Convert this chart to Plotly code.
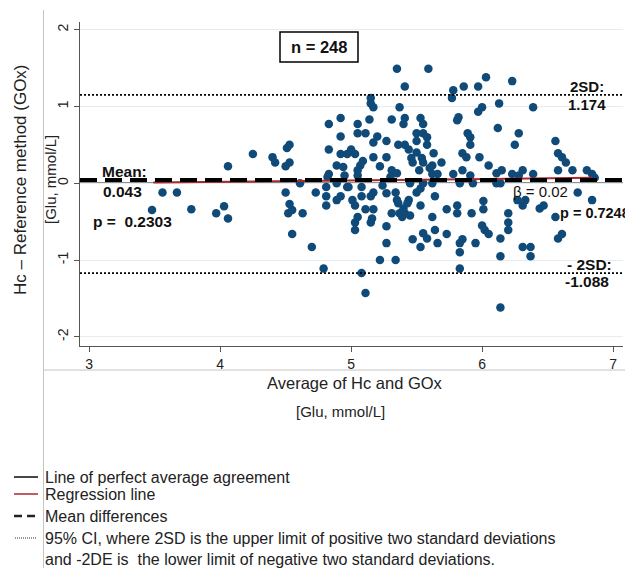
import plotly.graph_objects as go

# ---- data ----
avg_glu = [
    3.48, 3.56, 3.67, 3.78, 3.97, 4.03, 4.06, 4.06, 4.25, 4.40, 4.42, 4.51, 4.53, 4.50, 4.53, 4.61,
    4.50, 4.53, 4.55, 4.52, 4.55, 4.73, 4.63, 4.70, 4.79,
    4.81, 4.81, 4.81, 4.89, 4.92, 4.89, 4.97, 5.01, 5.03, 5.08, 5.08, 5.15, 5.17, 5.11, 5.17, 5.03, 5.05,
    5.03, 5.16, 5.15, 5.24, 5.27, 5.34, 5.35, 5.31, 5.37, 5.27, 5.27, 5.22, 5.34, 5.08, 5.11,
    5.36, 5.40, 5.43, 5.44, 5.41, 5.39, 5.45, 5.50, 5.53, 5.55, 5.64, 5.53, 5.45, 5.62, 5.62, 5.73, 5.81,
    5.81, 5.92, 6.01, 6.01, 6.00, 6.02, 6.05, 5.83, 5.85, 5.83, 5.95, 5.64, 5.55, 5.58, 5.73, 5.66, 5.47,
    5.53, 5.83, 6.14, 6.14, 6.14,
    6.14, 6.73, 6.84, 6.27, 6.31, 6.33, 6.44, 6.47, 6.20, 6.20, 6.20, 6.56, 6.58, 6.61, 6.31, 6.37, 6.37,
    5.35, 5.15, 5.15, 5.17, 5.37, 4.92, 4.83, 5.05, 5.14, 5.31, 5.05, 5.11, 4.92, 5.20, 5.17, 5.27, 4.83,
    5.00, 4.92, 5.03, 4.97, 5.17, 5.27, 4.89, 4.94, 5.07, 5.09, 5.05, 5.22, 5.31, 5.35, 4.83, 4.95, 5.05,
    5.30, 4.82,
    5.59, 5.41, 6.03, 5.97, 5.86, 5.78, 5.77, 5.41, 5.40, 5.53, 5.55, 5.82, 5.81, 6.00, 5.97, 6.13, 6.12,
    5.50, 5.55, 5.58, 5.89, 5.91, 5.50, 5.36, 5.41, 5.44, 5.58, 5.91, 5.50, 5.63, 5.85, 5.88, 5.46, 5.54,
    5.47, 5.55, 5.69, 5.98, 5.62, 5.60, 5.52, 6.05, 5.66, 5.62, 5.78, 5.85, 5.91, 6.11,
    6.23, 6.39, 6.28, 6.25, 6.56, 6.58, 6.61, 6.64, 6.15, 6.23, 6.31, 6.28, 6.39, 6.58, 6.69, 6.80, 6.84,
    6.86,
    4.98, 5.83, 5.93, 6.11,
]
diff_glu = [
    -0.35, -0.12, -0.12, -0.34, -0.39, -0.30, -0.46, 0.22, 0.38, 0.34, 0.27, 0.46, 0.50, 0.22, 0.27, 0.00,
    -0.12, -0.27, -0.35, -0.39, -0.66, -0.12, -0.39, -0.83, -1.11,
    -0.05, -0.17, -0.29, -0.22, -0.17, 0.00, -0.05, -0.22, -0.29, -0.05, -0.17, -0.17, -0.12, -0.34, -0.34, -0.51, -0.44,
    -0.61, -0.46, -0.51, -0.03, -0.13, -0.12, -0.22, -0.39, -0.39, -0.56, -0.78, -1.00, -1.00, -1.17, -1.43,
    -0.26, -0.33, -0.26, -0.22, -0.39, -0.44, -0.42, -0.12, -0.07, 0.00, -0.17, -0.29, 0.00, 0.00, -0.44, -0.34, -0.29,
    -0.39, -0.39, -0.23, -0.34, -0.55, -0.61, -0.66, -0.78, -0.73, -0.90, -0.78, -0.61, -0.65, -0.72, -0.66, -0.78, -0.73,
    -0.83, -1.11, -0.72, -0.95, -1.62,
    0.00, -0.12, -0.22, -0.22, -0.29, -0.22, -0.33, -0.29, -0.39, -0.51, -0.61, -0.44, -0.72, -0.66, -0.83, -0.83, -0.95,
    1.49, 1.11, 1.04, 0.99, 0.99, 0.85, 0.77, 0.77, 0.83, 0.83, 0.65, 0.65, 0.61, 0.61, 0.53, 0.55, 0.44,
    0.44, 0.38, 0.38, 0.38, 0.34, 0.34, 0.23, 0.21, 0.23, 0.29, 0.17, 0.22, 0.17, 0.13, 0.12, 0.10, 0.10,
    0.08, 0.08,
    1.49, 1.26, 1.38, 1.26, 1.26, 1.21, 1.11, 0.85, 0.77, 0.85, 0.77, 0.86, 0.82, 0.99, 0.93, 1.04, 0.72,
    0.65, 0.65, 0.60, 0.65, 0.60, 0.55, 0.50, 0.50, 0.44, 0.50, 0.50, 0.40, 0.39, 0.39, 0.34, 0.33, 0.33,
    0.27, 0.27, 0.27, 0.34, 0.23, 0.20, 0.17, 0.23, 0.12, 0.12, 0.12, 0.17, 0.10, 0.13,
    1.33, 0.99, 0.65, 0.50, 0.55, 0.39, 0.34, 0.27, 0.17, 0.12, 0.17, 0.10, 0.12, 0.17, 0.17, 0.17, 0.12,
    0.07,
    -0.05, 0.00, 0.00, 0.00,
]

mean_diff = 0.043
upper_line = 1.15     # drawn position of the +2SD line
lower_line = -1.17    # drawn position of the -2SD line
reg_x = [3.49, 6.84]
reg_y = [0.01, 0.07]

x_ticks = [3, 4, 5, 6, 7]
y_ticks = [-2, -1, 0, 1, 2]

legend_labels = [
    "Line of perfect average agreement",
    "Regression line",
    "Mean differences",
    "95% CI, where 2SD is the upper limit of positive two standard deviations",
    "and -2DE is  the lower limit of negative two standard deviations.",
]

# ---- layout helpers (reference pixel -> paper) ----
OFF = 8                      # page body margin of the browser
W, H = 633 - OFF, 568 - OFF
PL, PR, PT, PB = 80, 623, 22, 346   # plot area in reference pixels
def pxx(x):
    return (x - PL) / (PR - PL)
def pxy(y):
    return (PB - y) / (PB - PT)

FONT = "Liberation Sans, Arial, sans-serif"
MARK = "#0f4a78"

fig = go.Figure()

fig.add_trace(go.Scatter(
    x=avg_glu, y=diff_glu, mode="markers",
    marker=dict(size=8.5, color=MARK, line=dict(width=0)),
    showlegend=False, hoverinfo="skip",
))
fig.add_trace(go.Scatter(
    x=reg_x, y=reg_y, mode="lines",
    line=dict(color="#a8282c", width=2),
    showlegend=False, hoverinfo="skip",
))

shapes = []
shapes.append(dict(type="line", xref="paper", yref="y", x0=0, x1=1, y0=0, y1=0,
                   line=dict(color="#222222", width=1.5), layer="below"))
shapes.append(dict(type="line", xref="paper", yref="y", x0=0, x1=1, y0=mean_diff, y1=mean_diff,
                   line=dict(color="black", width=4, dash="17px,8px")))
for v in (upper_line, lower_line):
    shapes.append(dict(type="line", xref="paper", yref="y", x0=0, x1=1, y0=v, y1=v,
                       line=dict(color="black", width=1.8, dash="2px,2px")))
shapes.append(dict(type="rect", xref="paper", yref="paper",
                   x0=pxx(280), x1=pxx(358), y0=pxy(62), y1=pxy(32),
                   line=dict(color="black", width=1.5), fillcolor="white"))
frame_c = "#c4c4c4"
shapes.append(dict(type="line", xref="paper", yref="paper", x0=pxx(43.5), x1=pxx(43.5),
                   y0=pxy(10), y1=pxy(570), line=dict(color=frame_c, width=1)))
shapes.append(dict(type="line", xref="paper", yref="paper", x0=pxx(43.5), x1=pxx(632),
                   y0=pxy(370), y1=pxy(370), line=dict(color=frame_c, width=1)))
shapes.append(dict(type="line", xref="paper", yref="paper", x0=pxx(632), x1=pxx(632),
                   y0=pxy(10), y1=pxy(370), line=dict(color=frame_c, width=1)))

leg_y = [477, 494, 516, 538, 559]
shapes.append(dict(type="line", xref="paper", yref="paper", x0=pxx(14), x1=pxx(38),
                   y0=pxy(leg_y[0]), y1=pxy(leg_y[0]), line=dict(color="#333333", width=1.8)))
shapes.append(dict(type="line", xref="paper", yref="paper", x0=pxx(14), x1=pxx(38),
                   y0=pxy(leg_y[1]), y1=pxy(leg_y[1]), line=dict(color="#a8282c", width=1.5)))
shapes.append(dict(type="line", xref="paper", yref="paper", x0=pxx(14), x1=pxx(38),
                   y0=pxy(leg_y[2]), y1=pxy(leg_y[2]), line=dict(color="#222222", width=2.5, dash="8px,5px")))
shapes.append(dict(type="line", xref="paper", yref="paper", x0=pxx(15), x1=pxx(37),
                   y0=pxy(leg_y[3]), y1=pxy(leg_y[3]), line=dict(color="#333333", width=1, dash="1px,1px")))

ann = []
def add_text(text, x, y, size=15, xanchor="left", angle=0, color="#111111"):
    ann.append(dict(text=text, xref="paper", yref="paper", x=pxx(x), y=pxy(y),
                    xanchor=xanchor, yanchor="middle", showarrow=False, textangle=angle,
                    font=dict(family=FONT, size=size, color=color)))

add_text("<b>n = 248</b>", 319, 47, size=16.5, xanchor="center")
add_text("<b>Mean:</b>", 100, 172, size=15.5)
add_text("<b>0.043</b>", 101, 191, size=15.5)
add_text("<b>p =  0.2303</b>", 91, 221, size=15.5)
add_text("<b>2SD:</b>", 568, 86)
add_text("<b>1.174</b>", 566, 104)
add_text("β = 0.02", 511, 191)
add_text("<b>p = 0.7248</b>", 558, 213, size=14.5)
add_text("<b>- 2SD:</b>", 565, 264, size=15.5)
add_text("<b>-1.088</b>", 563, 281, size=15.5)

add_text("Hc – Reference method (GOx)", 21, 180, size=17, xanchor="center", angle=-90, color="#222222")
add_text("[Glu, mmol/L]", 51, 180, size=15, xanchor="center", angle=-90, color="#222222")
add_text("Average of Hc and GOx", 355, 383, size=16.5, xanchor="center", color="#222222")
add_text("[Glu, mmol/L]", 340, 411, size=15, xanchor="center", color="#222222")

for lab, yy in zip(legend_labels, leg_y):
    add_text(lab, 43, yy, size=16, color="#222222")

fig.update_layout(
    width=W, height=H,
    margin=dict(l=PL - OFF, r=W - (PR - OFF), t=PT - OFF, b=H - (PB - OFF), pad=0),
    paper_bgcolor="white", plot_bgcolor="white",
    font=dict(family=FONT, size=14, color="#222222"),
    shapes=shapes, annotations=ann, showlegend=False,
    xaxis=dict(range=[2.93, 7.076], tickvals=x_ticks, ticktext=[str(t) for t in x_ticks],
               showgrid=False, zeroline=False, showline=True, linecolor="#555555", linewidth=1.2,
               ticks="outside", ticklen=5, tickcolor="#555555", tickfont=dict(size=14, color="#222222")),
    yaxis=dict(range=[-2.12, 2.10], tickvals=y_ticks, ticktext=[str(t) for t in y_ticks],
               tickangle=-90, showgrid=True, gridcolor="#e4eef2", gridwidth=1, zeroline=False,
               showline=True, linecolor="#555555", linewidth=1.2,
               ticks="outside", ticklen=5, tickcolor="#555555", tickfont=dict(size=14, color="#222222")),
)

fig.write_html("out.html")
